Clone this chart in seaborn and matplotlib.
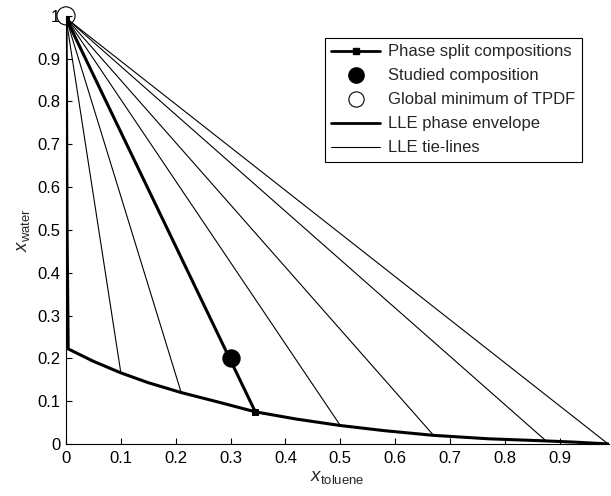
import matplotlib
matplotlib.use("Agg")
import matplotlib.pyplot as plt
import seaborn as sns
import pandas as pd
from matplotlib.lines import Line2D

# Data
env_x = [0.0, 0.001, 0.002, 0.004, 0.05, 0.10, 0.15, 0.21, 0.28, 0.345, 0.42, 0.50, 0.58, 0.67, 0.77, 0.875, 0.93, 0.988]
env_y = [1.0, 0.80, 0.50, 0.222, 0.193, 0.166, 0.143, 0.120, 0.097, 0.075, 0.058, 0.043, 0.031, 0.020, 0.012, 0.007, 0.004, 0.0]

tie_start_x = 0.0
tie_start_y = 0.995
tie_end_x = [0.10, 0.21, 0.50, 0.67, 0.875, 0.988]
tie_end_y = [0.166, 0.120, 0.043, 0.020, 0.007, 0.0]

split_x = [0.0, 0.345]
split_y = [0.995, 0.075]

studied_x = [0.30]
studied_y = [0.20]

gmin_x = [0.0]
gmin_y = [1.0]

x_ticks = [0, 0.1, 0.2, 0.3, 0.4, 0.5, 0.6, 0.7, 0.8, 0.9]
y_ticks = [0, 0.1, 0.2, 0.3, 0.4, 0.5, 0.6, 0.7, 0.8, 0.9, 1.0]
x_ticklabels = ["0", "0.1", "0.2", "0.3", "0.4", "0.5", "0.6", "0.7", "0.8", "0.9"]
y_ticklabels = ["0", "0.1", "0.2", "0.3", "0.4", "0.5", "0.6", "0.7", "0.8", "0.9", "1"]

legend_labels = ["Phase split compositions", "Studied composition",
                 "Global minimum of TPDF", "LLE phase envelope", "LLE tie-lines"]

sns.set_style("ticks")
plt.rcParams['font.family'] = ['Liberation Sans', 'DejaVu Sans']
plt.rcParams['mathtext.fontset'] = 'custom'
plt.rcParams['mathtext.rm'] = 'Liberation Sans'
plt.rcParams['mathtext.it'] = 'Liberation Sans:italic'

fig = plt.figure(figsize=(6.11, 4.96), dpi=100)
ax = fig.add_axes([0.108, 0.105, 0.889, 0.863])

# tie-lines
rows = []
for i, (xe, ye) in enumerate(zip(tie_end_x, tie_end_y)):
    rows.append({"line": i, "order": 0, "x": tie_start_x, "y": tie_start_y})
    rows.append({"line": i, "order": 1, "x": xe, "y": ye})
ties = pd.DataFrame(rows)
sns.lineplot(data=ties, x="x", y="y", units="line", estimator=None, sort=False,
             color="black", linewidth=0.8, ax=ax, legend=False)

# envelope
env = pd.DataFrame({"x": env_x, "y": env_y})
sns.lineplot(data=env, x="x", y="y", sort=False, estimator=None,
             color="black", linewidth=2.2, ax=ax, legend=False)

# phase split
sp = pd.DataFrame({"x": split_x, "y": split_y})
sns.lineplot(data=sp, x="x", y="y", sort=False, estimator=None,
             color="black", linewidth=2.2, marker="s", markersize=5,
             markeredgecolor="black", ax=ax, legend=False)

# studied composition
sns.scatterplot(x=studied_x, y=studied_y, s=150, color="black",
                edgecolor="black", ax=ax, legend=False, zorder=5)
# global minimum
sns.scatterplot(x=gmin_x, y=gmin_y, s=170, facecolor="none",
                edgecolor="black", linewidth=0.8, ax=ax, legend=False,
                zorder=5, clip_on=False)

ax.set_xlim(0, 0.99)
ax.set_ylim(0, 1.0)
ax.set_xticks(x_ticks)
ax.set_xticklabels(x_ticklabels)
ax.set_yticks(y_ticks)
ax.set_yticklabels(y_ticklabels)
ax.tick_params(direction="in", length=4, width=0.8, labelsize=12, colors="black")
ax.tick_params(axis="x", pad=5)
ax.tick_params(axis="y", pad=4)
for s in ["top", "right"]:
    ax.spines[s].set_visible(False)
for s in ["left", "bottom"]:
    ax.spines[s].set_linewidth(0.8)
    ax.spines[s].set_color("black")

ax.set_xlabel(r"$\mathit{x}_{\mathrm{toluene}}$", fontsize=13.5, labelpad=2)
ax.set_ylabel(r"$\mathit{x}_{\mathrm{water}}$", fontsize=13.5, labelpad=4)

handles = [
    Line2D([], [], color="black", lw=2, marker="s", markersize=5),
    Line2D([], [], color="black", lw=0, marker="o", markersize=11),
    Line2D([], [], color="black", lw=0, marker="o", markersize=11,
           markerfacecolor="white", markeredgewidth=0.8),
    Line2D([], [], color="black", lw=2),
    Line2D([], [], color="black", lw=0.8),
]
leg = ax.legend(handles, legend_labels, loc="upper right",
                bbox_to_anchor=(0.950, 0.949), fontsize=12, frameon=True,
                fancybox=False, edgecolor="black", framealpha=1,
                handlelength=2.9, borderpad=0.4, labelspacing=0.54,
                handletextpad=0.5, borderaxespad=0)
leg.get_frame().set_linewidth(0.8)

fig.savefig("out.png", dpi=100)
